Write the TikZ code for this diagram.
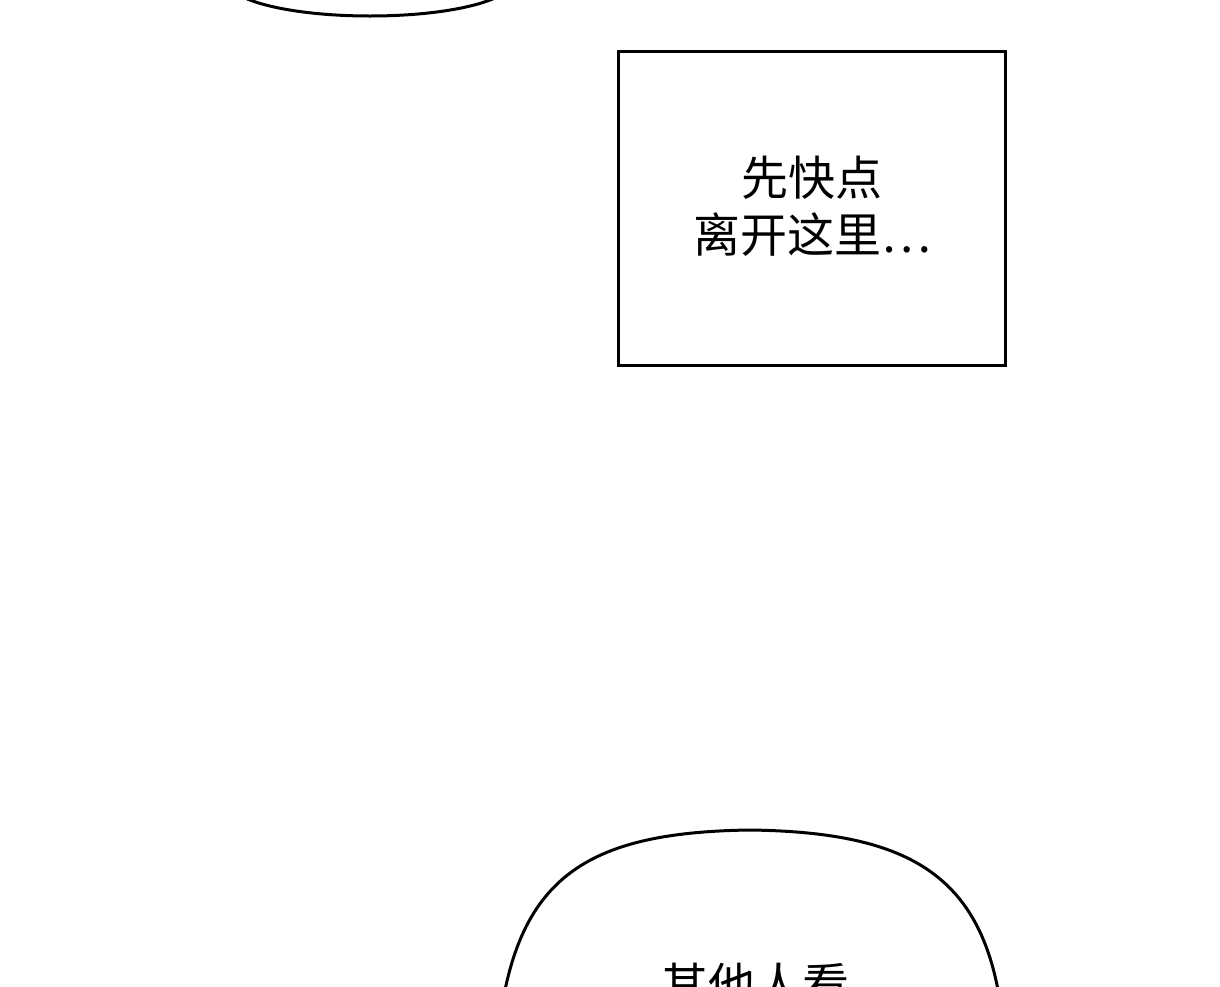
\documentclass[tikz,border=0pt]{standalone}
\usepackage{fontspec}
\newfontfamily\cjk{Noto Sans CJK SC}
\begin{document}
\begin{tikzpicture}[x=1pt,y=-1pt,line width=3pt,
  txt/.style={font=\cjk\fontsize{47}{57}\selectfont,align=center,inner sep=0pt}]
\useasboundingbox (0,0) rectangle (1220,986);
\clip (0,0) rectangle (1220,986);
\fill[white] (0,0) rectangle (1220,986);
\draw (245,-2) .. controls (300,22) and (440,22) .. (495,-2);
\node[draw,minimum width=387pt,minimum height=314pt,line width=3pt,anchor=north west] (box) at (617,50) {};
\node[txt] (t1) at (812,206) {先快点\\离开这里⋯};
\draw (505,990) .. controls (530,870) and (600,832) .. (750,830)
  .. controls (900,832) and (975,870) .. (998,990);
\node[txt,anchor=north] (t2) at (755,962) {其他人看};
\end{tikzpicture}
\end{document}
